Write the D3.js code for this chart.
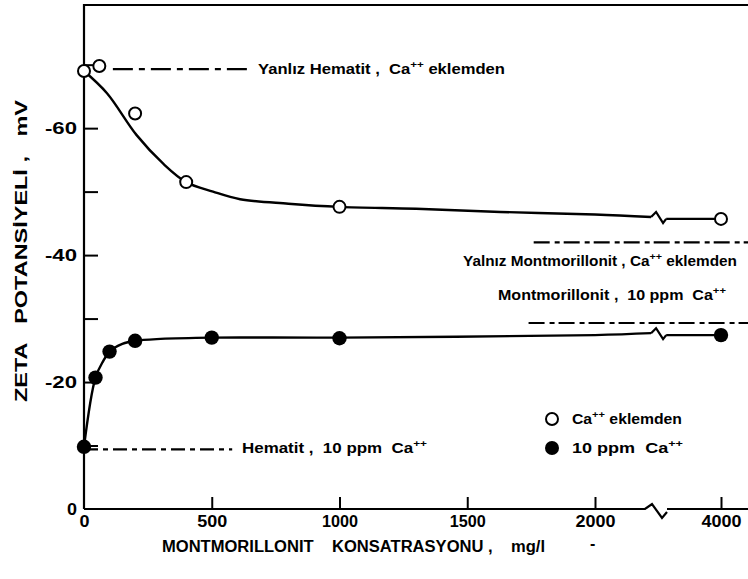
<!DOCTYPE html>
<html>
<head>
<meta charset="utf-8">
<script src="https://cdn.jsdelivr.net/npm/d3@7"></script>
<style>
  html, body { margin: 0; padding: 0; background: #fff; }
  svg { display: block; }
  text { font-family: "Liberation Sans", Arial, sans-serif; font-weight: bold; fill: #000; white-space: pre; }
</style>
</head>
<body>
<svg id="chart" width="748" height="579"></svg>
<script>
// Measured points: zeta potential (mV) vs montmorillonite concentration (mg/l)
const openX   = [0, 60, 200, 400, 1000, 4000];          // Ca++ eklemden
const openY   = [-69, -69.8, -62.3, -51.5, -47.6, -45.7];
const filledX = [0, 45, 100, 200, 500, 1000, 4000];     // 10 ppm Ca++
const filledY = [-9.8, -20.7, -24.8, -26.5, -27, -26.9, -27.4];

// Hand-fitted curves through each series (before and after the axis break)
const openFitX   = [0, 90, 206, 310, 400, 505, 611, 800, 1000, 1300, 1630, 2000, 2890];
const openFitY   = [-69, -65.5, -58.9, -54.4, -51.5, -50.0, -48.8, -48.1, -47.6, -47.3, -46.8, -46.4, -46.0];
const openTailX  = [3130, 4000];
const openTailY  = [-45.7, -45.7];
const filledFitX = [0, 45, 75, 100, 150, 200, 300, 500, 1000, 2000, 2890];
const filledFitY = [-9.8, -20.7, -23.3, -24.8, -26.0, -26.5, -26.8, -27, -27, -27.4, -27.7];
const filledTailX = [3130, 4000];
const filledTailY = [-27.4, -27.4];

// Reference levels (single-mineral suspensions)
const refNames = ["Hematit, Ca++ eklemden", "Montmorillonit, Ca++ eklemden", "Montmorillonit, 10 ppm Ca++", "Hematit, 10 ppm Ca++"];
const refLevel = [-69.3, -42, -29.3, -9.4];
const refFrom  = [113, 1760, 1740, 0];
const refTo    = [650, 4430, 4430, 580];

// Axis ticks
const xTicks = [0, 500, 1000, 1500, 2000, 4000];
const yMajor = [-60, -40, -20, 0];
const yMinor = [-70, -50, -30, -10];
const breakAt = 3000;

const svg = d3.select("#chart");
const x = d3.scaleLinear().domain([0, 2000, 4000]).range([84, 595, 721]);
const y = d3.scaleLinear().domain([0, -79.4]).range([509, 5]);
const X0 = 84, XR = 748, Y0 = 509, YT = 5;

// Frame: left axis and top border
svg.append("path")
  .attr("d", `M${X0},${Y0} L${X0},${YT} L${XR},${YT}`)
  .attr("fill", "none").attr("stroke", "#000").attr("stroke-width", 2.2);

// Bottom axis with a break between 2000 and 4000
const bx = x(breakAt);
svg.append("path")
  .attr("d", `M${X0},${Y0} L${bx - 13},${Y0} L${bx - 6},${Y0 - 5} L${bx + 4},${Y0 + 9} L${bx + 9},${Y0 + 3} M${bx + 9},${Y0} L${XR},${Y0}`)
  .attr("fill", "none").attr("stroke", "#000").attr("stroke-width", 2.2);

// Width of a tick label, set per character
const labelWidth = s => Array.from(s).reduce((w, c) => w + (c === "1" ? 6 : c === "-" ? 12 : 10), 0);

const xAxis = svg.append("g").attr("transform", `translate(0,${Y0})`)
  .call(d3.axisBottom(x).tickValues(xTicks).tickSizeInner(-12).tickSizeOuter(0).tickPadding(7).tickFormat(d => String(d)));
xAxis.select(".domain").remove();
xAxis.selectAll(".tick line").attr("stroke-width", 2).filter(d => d === 0).remove();
xAxis.selectAll("text").attr("font-size", 16).attr("font-family", "Liberation Sans, Arial, sans-serif").attr("font-weight", "bold")
  .attr("textLength", d => labelWidth(String(d))).attr("lengthAdjust", "spacingAndGlyphs");

const yAxis = svg.append("g").attr("transform", `translate(${X0},0)`)
  .call(d3.axisLeft(y).tickValues(yMajor.concat(yMinor)).tickSizeInner(-14).tickSizeOuter(0).tickPadding(7)
    .tickFormat(d => yMajor.includes(d) ? String(d) : ""));
yAxis.select(".domain").remove();
yAxis.selectAll(".tick line").attr("stroke-width", 2).filter(d => d === 0).remove();
yAxis.selectAll("text").filter(d => yMajor.includes(d))
  .attr("font-size", 16).attr("font-family", "Liberation Sans, Arial, sans-serif").attr("font-weight", "bold")
  .attr("textLength", d => labelWidth(String(d))).attr("lengthAdjust", "spacingAndGlyphs");

// Reference dashed lines
const dashes = ["20,6,6,6", "16,5,5,4", "16,5,5,4", "14,5,5,5"];
refLevel.forEach((v, i) => {
  svg.append("line")
    .attr("x1", x(refFrom[i])).attr("x2", Math.min(x(refTo[i]), XR))
    .attr("y1", y(v)).attr("y2", y(v))
    .attr("stroke", "#000").attr("stroke-width", 2.2)
    .attr("stroke-dasharray", dashes[i]);
});

// Fitted curves
const line = d3.line().x(d => x(d[0])).y(d => y(d[1])).curve(d3.curveCatmullRom.alpha(0.5));
function drawCurve(fx, fy, tx, ty) {
  const pre = fx.map((v, i) => [v, fy[i]]);
  const post = tx.map((v, i) => [v, ty[i]]);
  svg.append("path").attr("d", line(pre))
    .attr("fill", "none").attr("stroke", "#000").attr("stroke-width", 2.4);
  svg.append("path").attr("d", line(post))
    .attr("fill", "none").attr("stroke", "#000").attr("stroke-width", 2.4);
  // zigzag across the break
  const a = [x(pre[pre.length - 1][0]), y(pre[pre.length - 1][1])];
  const b = [x(post[0][0]), y(post[0][1])];
  svg.append("path")
    .attr("d", `M${a[0]},${a[1]} L${a[0] + 5},${a[1] - 5} L${a[0] + 12},${a[1] + 6} L${b[0]},${b[1]}`)
    .attr("fill", "none").attr("stroke", "#000").attr("stroke-width", 2.2);
}
drawCurve(openFitX, openFitY, openTailX, openTailY);
drawCurve(filledFitX, filledFitY, filledTailX, filledTailY);

// Points
svg.append("g").selectAll("circle").data(openX.map((v, i) => [v, openY[i]])).join("circle")
  .attr("cx", d => x(d[0])).attr("cy", d => y(d[1])).attr("r", 6)
  .attr("fill", "#fff").attr("stroke", "#000").attr("stroke-width", 2);
svg.append("g").selectAll("circle").data(filledX.map((v, i) => [v, filledY[i]])).join("circle")
  .attr("cx", d => x(d[0])).attr("cy", d => y(d[1])).attr("r", 7.2)
  .attr("fill", "#000");

// Text with superscripts
function label(px, py, parts, width, size) {
  const t = svg.append("text").attr("x", px).attr("y", py).attr("font-size", size)
    .attr("textLength", width).attr("lengthAdjust", "spacingAndGlyphs");
  let raised = false;
  parts.forEach(p => {
    const sup = p.startsWith("^");
    const s = t.append("tspan").text(sup ? p.slice(1) : p);
    if (sup && !raised) { s.attr("dy", -6).attr("font-size", size * 0.7); raised = true; }
    else if (sup) { s.attr("font-size", size * 0.7); }
    else if (raised) { s.attr("dy", 6); raised = false; }
  });
  return t;
}
label(258, 74, ["Yanlız Hematit ,  Ca", "^++", " eklemden"], 247, 14);
label(463, 266, ["Yalnız Montmorillonit , Ca", "^++", " eklemden"], 274, 14);
label(498, 300, ["Montmorillonit ,  10 ppm  Ca", "^++"], 228, 14);
label(242, 453, ["Hematit ,  10 ppm  Ca", "^++"], 185, 14);

// Legend
svg.append("circle").attr("cx", 552).attr("cy", 419).attr("r", 6)
  .attr("fill", "#fff").attr("stroke", "#000").attr("stroke-width", 2);
svg.append("circle").attr("cx", 552).attr("cy", 448).attr("r", 7).attr("fill", "#000");
label(572, 424, ["Ca", "^++", " eklemden"], 110, 14);
label(572, 453, ["10 ppm  Ca", "^++"], 111, 14);

// Axis titles
svg.append("text").attr("transform", "translate(27,251) rotate(-90)")
  .attr("text-anchor", "middle").attr("font-size", 17)
  .attr("textLength", 302).attr("lengthAdjust", "spacingAndGlyphs")
  .text("ZETA   POTANSİYELİ ,   mV");
svg.append("text").attr("x", 162).attr("y", 552).attr("font-size", 16)
  .attr("textLength", 383).attr("lengthAdjust", "spacingAndGlyphs")
  .text("MONTMORILLONIT    KONSATRASYONU ,    mg/l");
svg.append("text").attr("x", 590).attr("y", 549).attr("font-size", 16).text("-");
</script>
</body>
</html>
